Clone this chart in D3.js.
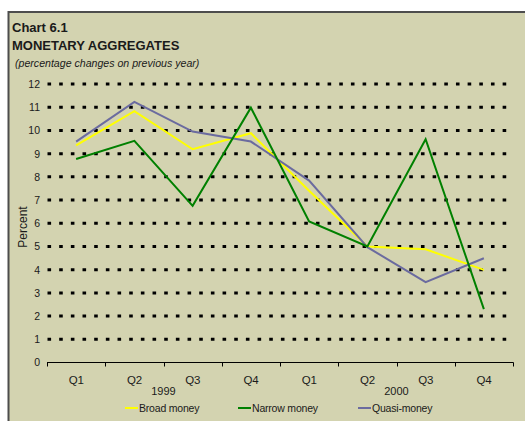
<!DOCTYPE html>
<html>
<head>
<meta charset="utf-8">
<script src="https://cdn.jsdelivr.net/npm/d3@7"></script>
<style>
body { margin: 0; background: #fff; }
svg text { font-family: "Liberation Sans", Arial, sans-serif; fill: #1a1a1a; }
</style>
</head>
<body>
<div id="chart"></div>
<script>
// chart data
var quarters = ["Q1", "Q2", "Q3", "Q4", "Q1", "Q2", "Q3", "Q4"];
var years = [{ label: "1999", at: 2 }, { label: "2000", at: 6 }];
var broadMoney = [9.36, 10.83, 9.19, 9.88, 7.4, 5.0, 4.88, 3.99];
var narrowMoney = [8.77, 9.55, 6.75, 10.98, 6.08, 5.0, 9.62, 2.3];
var quasiMoney = [9.52, 11.23, 9.95, 9.52, 7.84, 4.97, 3.46, 4.49];
var yTicks = [0, 1, 2, 3, 4, 5, 6, 7, 8, 9, 10, 11, 12];

var series = [
	{ name: "Broad money", values: broadMoney, color: "#ffff00" },
	{ name: "Narrow money", values: narrowMoney, color: "#008000" },
	{ name: "Quasi-money", values: quasiMoney, color: "#6b6b9f" }
];

var width = 525, height = 421;

var svg = d3.select("#chart")
	.append("svg")
	.attr("width", width)
	.attr("height", height);

// background panel with border
svg.append("rect")
	.attr("x", 8.5)
	.attr("y", 12)
	.attr("width", 530)
	.attr("height", 420)
	.attr("fill", "#d3d3b0")
	.attr("stroke", "#4d4d4d")
	.attr("stroke-width", 2);

// titles
svg.append("text")
	.attr("x", 12).attr("y", 32)
	.style("font-size", "13px").style("font-weight", "bold")
	.text("Chart 6.1");
svg.append("text")
	.attr("x", 12).attr("y", 50)
	.style("font-size", "13px").style("font-weight", "bold")
	.text("MONETARY AGGREGATES");
svg.append("text")
	.attr("x", 15).attr("y", 67)
	.style("font-size", "10.6px").style("font-style", "italic")
	.text("(percentage changes on previous year)");

// scales
var x = d3.scaleBand()
	.domain(d3.range(quarters.length))
	.range([47, 513]);

var y = d3.scaleLinear()
	.domain([0, 12])
	.range([362.5, 84]);

// dotted gridlines
svg.append("g")
	.selectAll("line")
	.data(yTicks.filter(function(d) { return d > 0; }))
	.enter().append("line")
	.attr("x1", 47.5).attr("x2", 513)
	.attr("y1", function(d) { return y(d); })
	.attr("y2", function(d) { return y(d); })
	.attr("stroke", "#000")
	.attr("stroke-width", 3)
	.attr("stroke-dasharray", "3.6,8.07");

// y axis labels
var yAxis = d3.axisLeft(y).tickValues(yTicks).tickSize(0).tickPadding(7);
svg.append("g")
	.attr("transform", "translate(47,0)")
	.call(yAxis)
	.call(function(g) { g.select(".domain").remove(); })
	.selectAll("text")
	.style("font-size", "10.5px")
	.style("font-family", "Liberation Sans, Arial, sans-serif")
	.attr("fill", "#1a1a1a");

// x axis with ticks at category boundaries
var xAxisG = svg.append("g").attr("transform", "translate(0," + y(0) + ")");
xAxisG.append("line")
	.attr("x1", 47).attr("x2", 513.5)
	.attr("stroke", "#000").attr("stroke-width", 1.2);
xAxisG.selectAll(".tk")
	.data(d3.range(quarters.length + 1))
	.enter().append("line")
	.attr("class", "tk")
	.attr("x1", function(d) { return Math.round(47 + d * x.step()) + 0.5; })
	.attr("x2", function(d) { return Math.round(47 + d * x.step()) + 0.5; })
	.attr("y1", 0).attr("y2", 4)
	.attr("stroke", "#000");
xAxisG.selectAll(".ql")
	.data(quarters)
	.enter().append("text")
	.attr("class", "ql")
	.attr("x", function(d, i) { return x(i) + x.bandwidth() / 2; })
	.attr("y", 21)
	.attr("text-anchor", "middle")
	.style("font-size", "11.5px")
	.style("letter-spacing", "-0.3px")
	.text(function(d) { return d; });
xAxisG.selectAll(".yl")
	.data(years)
	.enter().append("text")
	.attr("class", "yl")
	.attr("x", function(d) { return 47 + d.at * x.step(); })
	.attr("y", 32)
	.attr("text-anchor", "middle")
	.style("font-size", "11px")
	.text(function(d) { return d.label; });

// y axis title
svg.append("text")
	.attr("transform", "translate(26.5,227) rotate(-90)")
	.attr("text-anchor", "middle")
	.style("font-size", "12px")
	.text("Percent");

// lines
var line = d3.line()
	.x(function(d, i) { return x(i) + x.bandwidth() / 2; })
	.y(function(d) { return y(d); });

var drawOrder = [series[0], series[2], series[1]];
svg.append("g")
	.selectAll("path")
	.data(drawOrder)
	.enter().append("path")
	.attr("d", function(d) { return line(d.values); })
	.attr("fill", "none")
	.attr("stroke", function(d) { return d.color; })
	.attr("stroke-width", 2);

// legend
var legendX = [125, 238, 358];
var legend = svg.append("g").attr("transform", "translate(0,408)");
var items = legend.selectAll("g")
	.data(series)
	.enter().append("g")
	.attr("transform", function(d, i) { return "translate(" + legendX[i] + ",0)"; });
items.append("line")
	.attr("x1", 0).attr("x2", 13)
	.attr("y1", 0).attr("y2", 0)
	.attr("stroke", function(d) { return d.color; })
	.attr("stroke-width", 2);
items.append("text")
	.attr("x", 14).attr("y", 4)
	.style("font-size", "10.5px")
	.style("letter-spacing", "-0.2px")
	.text(function(d) { return d.name; });
</script>
</body>
</html>
